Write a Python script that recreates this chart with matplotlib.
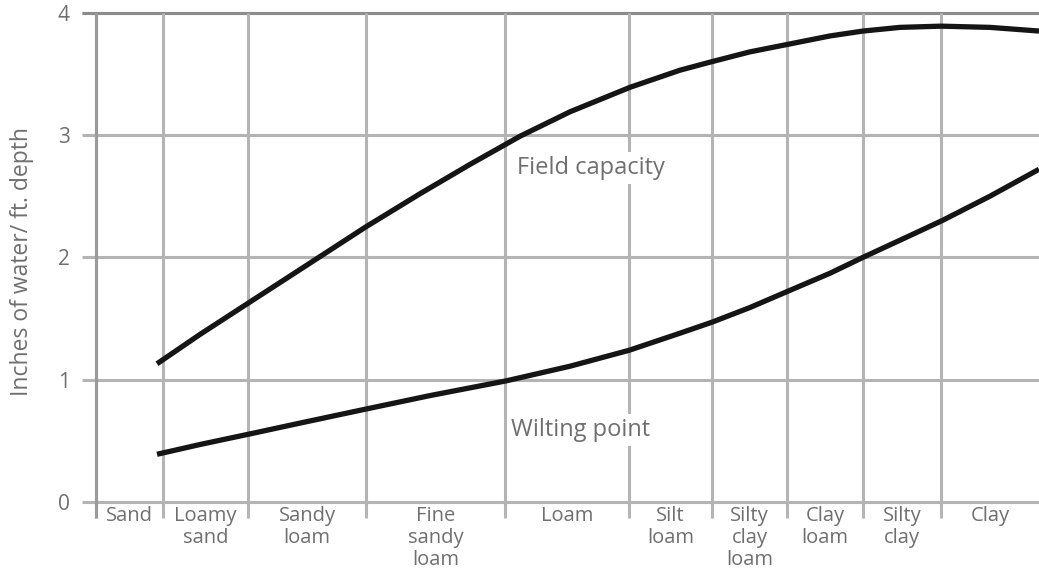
import numpy as np
import matplotlib.pyplot as plt

# soil texture classes, left to right
textures = ['Sand', 'Loamy\nsand', 'Sandy\nloam', 'Fine\nsandy\nloam', 'Loam',
            'Silt\nloam', 'Silty\nclay\nloam', 'Clay\nloam', 'Silty\nclay', 'Clay']
# class edges along the texture axis
edges = [0, 67, 152, 270, 409, 533, 616, 691, 767, 845, 943]

# field capacity curve (inches of water per ft depth)
fc_x = [61, 104, 153, 204, 270, 324, 374, 424, 474, 534, 584, 616, 654, 691,
        734, 767, 804, 845, 894, 943]
fc_y = [1.13, 1.37, 1.63, 1.90, 2.25, 2.52, 2.76, 2.99, 3.19, 3.39, 3.53, 3.60,
        3.68, 3.74, 3.81, 3.85, 3.88, 3.89, 3.88, 3.85]

# wilting point curve
wp_x = [61, 104, 153, 204, 270, 334, 410, 474, 533, 584, 616, 654, 691, 734,
        767, 804, 846, 894, 943]
wp_y = [0.39, 0.47, 0.555, 0.645, 0.76, 0.87, 0.99, 1.11, 1.24, 1.38, 1.47, 1.59,
        1.72, 1.87, 2.00, 2.14, 2.30, 2.50, 2.72]

y_ticks = [0, 1, 2, 3, 4]

plt.rcParams['font.family'] = ['Open Sans', 'DejaVu Sans']
text_grey = '#6f6f6f'
grid_grey = '#b4b4b4'

fig = plt.figure(figsize=(10.39, 5.70), dpi=100)
ax = fig.add_axes([96 / 1039, (570 - 502) / 570, 943 / 1039, (502 - 12.7) / 570])
ax.set_xlim(edges[0], edges[-1])
ax.set_ylim(0, 4)

# grid: horizontal lines poke out left of the axis, vertical ones below it
ax.hlines(y_ticks, -14, edges[-1], colors=grid_grey, lw=2.2, clip_on=False, zorder=1)
ax.hlines(4, -14, edges[-1], colors='#8c8c8c', lw=2.2, clip_on=False, zorder=1)
ax.vlines(edges[:-1], -0.13, 4, colors=grid_grey, lw=2.2, clip_on=False, zorder=1)
ax.vlines(edges[0], -0.13, 4, colors='#9a9a9a', lw=2.2, clip_on=False, zorder=1)

ax.plot(fc_x, fc_y, color='#151515', lw=3.8, solid_capstyle='butt',
        solid_joinstyle='round', zorder=3)
ax.plot(wp_x, wp_y, color='#151515', lw=3.8, solid_capstyle='butt',
        solid_joinstyle='round', zorder=3)

ax.text(495, 2.73, 'Field capacity', ha='center', va='center', fontsize=17,
        color=text_grey, zorder=2,
        bbox=dict(facecolor='white', edgecolor='none', pad=3))
ax.text(485, 0.59, 'Wilting point', ha='center', va='center', fontsize=17,
        color=text_grey, zorder=2,
        bbox=dict(facecolor='white', edgecolor='none', pad=3))

# texture class names centred under each band
for i, name in enumerate(textures):
    mid = (edges[i] + edges[i + 1]) / 2
    ax.text(mid, -0.03, name, ha='center', va='top', fontsize=14.5,
            color=text_grey, linespacing=1.15)

ax.set_xticks([])
ax.set_yticks(y_ticks)
ax.set_yticklabels([str(t) for t in y_ticks])
ax.tick_params(axis='y', length=0, pad=19, labelsize=15, labelcolor=text_grey)
for s in ax.spines.values():
    s.set_visible(False)

fig.text(22 / 1039, 1 - 262 / 570, 'Inches of water/ ft. depth', rotation=90,
         ha='center', va='center', fontsize=16.5, color=text_grey)

fig.savefig('out.png', dpi=100)
